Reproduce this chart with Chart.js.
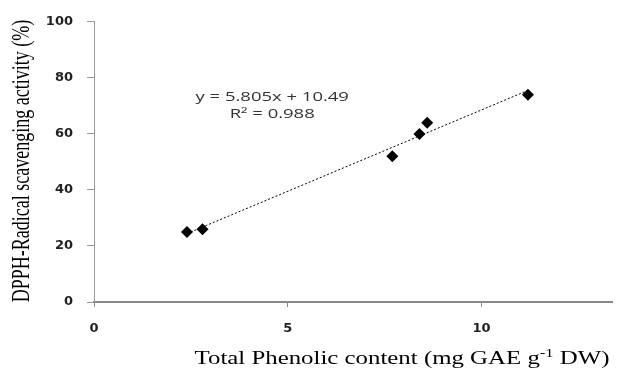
<!DOCTYPE html>
<html>
<head>
<meta charset="utf-8">
<script src="https://cdn.jsdelivr.net/npm/chart.js@4/dist/chart.umd.min.js"></script>
<style>
html,body{margin:0;padding:0;background:#fff;}
#wrap{width:618px;height:371px;position:relative;}
</style>
</head>
<body>
<div id="wrap"><canvas id="c" width="618" height="371"></canvas></div>
<script>
// Data
const phenolic = [2.4, 2.8, 7.7, 8.4, 8.6, 11.2];
const dpph = [25, 26, 52, 60, 64, 74];
const trendSlope = 5.805;
const trendIntercept = 10.49;
const trendLabel = 'y = 5.805x + 10.49';
const r2Label = 'R\u00B2 = 0.988';
const xTicks = [0, 5, 10];
const yTitle = 'DPPH-Radical scavenging activity (%)';

const trendX = [Math.min(...phenolic), Math.max(...phenolic)];
const trendPts = trendX.map(x => ({x: x, y: trendSlope * x + trendIntercept}));
const points = phenolic.map((x, i) => ({x: x, y: dpph[i]}));

function stretchedText(ctx, text, x, y, sx) {
  ctx.save();
  ctx.translate(x, y);
  ctx.scale(sx, 1);
  ctx.fillText(text, 0, 0);
  ctx.restore();
}

const textPlugin = {
  id: 'texts',
  afterDraw(chart) {
    const ctx = chart.ctx;
    const xs = chart.scales.x, ys = chart.scales.y;
    ctx.save();
    // equation annotation
    ctx.fillStyle = '#333';
    ctx.font = '13px "Open Sans", sans-serif';
    ctx.textAlign = 'center';
    ctx.textBaseline = 'middle';
    stretchedText(ctx, trendLabel, xs.getPixelForValue(4.6), ys.getPixelForValue(73.2), 1.42);
    stretchedText(ctx, r2Label, xs.getPixelForValue(4.6), ys.getPixelForValue(66.9), 1.42);
    ctx.restore();
    // y title (rotated, glyphs stretched across)
    ctx.save();
    ctx.fillStyle = '#000';
    ctx.font = '18px "Liberation Serif", serif';
    ctx.textAlign = 'center';
    ctx.textBaseline = 'middle';
    ctx.translate(22, 161);
    ctx.scale(1.4, 1);
    ctx.rotate(-Math.PI / 2);
    ctx.fillText(yTitle, 0, 0);
    ctx.restore();
    // x title with superscript
    ctx.save();
    ctx.fillStyle = '#000';
    ctx.textBaseline = 'alphabetic';
    ctx.textAlign = 'left';
    const big = '18px "Liberation Serif", serif';
    const small = '12px "Liberation Serif", serif';
    const parts = [['Total Phenolic content (mg GAE g', big, 0], ['-1', small, -7], [' DW)', big, 0]];
    let total = 0;
    parts.forEach(p => { ctx.font = p[1]; total += ctx.measureText(p[0]).width; });
    const sx = 1.38;
    ctx.translate(402 - total * sx / 2, 364);
    ctx.scale(sx, 1);
    let x = 0;
    parts.forEach(p => { ctx.font = p[1]; ctx.fillText(p[0], x, p[2]); x += ctx.measureText(p[0]).width; });
    ctx.restore();
  }
};

new Chart(document.getElementById('c'), {
  type: 'scatter',
  data: {
    datasets: [
      {
        type: 'line',
        data: trendPts,
        borderColor: '#000',
        borderWidth: 1,
        borderDash: [2, 2],
        pointRadius: 0,
        fill: false
      },
      {
        data: points,
        pointStyle: 'rectRot',
        pointRadius: 6,
        pointHoverRadius: 6,
        backgroundColor: '#000',
        borderColor: '#000',
        borderWidth: 0
      }
    ]
  },
  options: {
    responsive: false,
    animation: false,
    devicePixelRatio: 1,
    layout: {padding: {top: 19, right: 0, left: 0, bottom: 0}},
    plugins: {legend: {display: false}, tooltip: {enabled: false}},
    scales: {
      x: {
        type: 'linear',
        min: 0,
        max: 13.37,
        afterBuildTicks(s) { s.ticks = xTicks.map(v => ({value: v})); },
        afterFit(s) { s.height = 69; },
        grid: {drawOnChartArea: false, color: '#888', tickLength: 5, lineWidth: 1},
        border: {color: '#888', width: 2},
        ticks: {color: '#222', padding: 14, maxRotation: 0, font: {family: '"DejaVu Sans", sans-serif', size: 13, weight: 'bold'}}
      },
      y: {
        min: 0,
        max: 100,
        ticks: {stepSize: 20, color: '#222', padding: 14, font: {family: '"DejaVu Sans", sans-serif', size: 13, weight: 'bold'}},
        afterFit(s) { s.width = 94; },
        grid: {drawOnChartArea: false, color: '#999', tickLength: 7},
        border: {color: '#999', width: 1}
      }
    }
  },
  plugins: [textPlugin]
});
</script>
</body>
</html>
